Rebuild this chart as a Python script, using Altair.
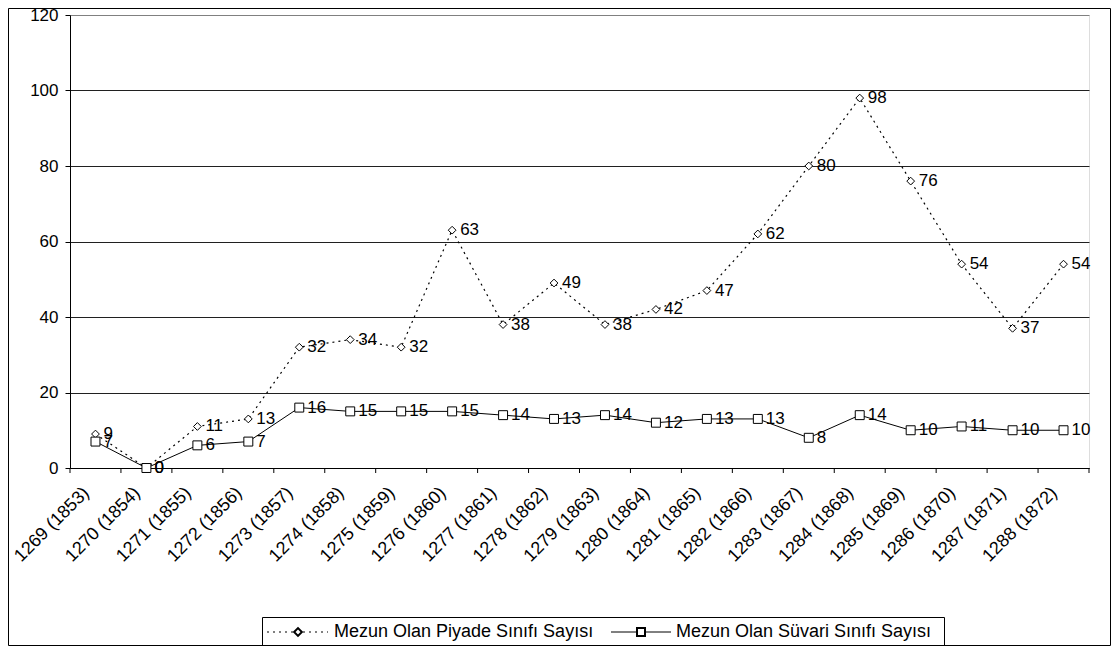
import altair as alt
import pandas as pd

categories = ["1269 (1853)", "1270 (1854)", "1271 (1855)", "1272 (1856)", "1273 (1857)",
              "1274 (1858)", "1275 (1859)", "1276 (1860)", "1277 (1861)", "1278 (1862)",
              "1279 (1863)", "1280 (1864)", "1281 (1865)", "1282 (1866)", "1283 (1867)",
              "1284 (1868)", "1285 (1869)", "1286 (1870)", "1287 (1871)", "1288 (1872)"]
piyade = [9, 0, 11, 13, 32, 34, 32, 63, 38, 49, 38, 42, 47, 62, 80, 98, 76, 54, 37, 54]
suvari = [7, 0, 6, 7, 16, 15, 15, 15, 14, 13, 14, 12, 13, 13, 8, 14, 10, 11, 10, 10]
series_names = ["Mezun Olan Piyade Sınıfı Sayısı", "Mezun Olan Süvari Sınıfı Sayısı"]
y_ticks = [0, 20, 40, 60, 80, 100, 120]

W, H = 1019, 453
FONT = "Liberation Sans"
FS = 17

df_p = pd.DataFrame({"cat": categories, "value": piyade})
df_s = pd.DataFrame({"cat": categories, "value": suvari})
df_c = pd.DataFrame({"cat": categories})
one = pd.DataFrame({"k": [0]})

xscale = alt.Scale(type="band", domain=categories, paddingInner=0, paddingOuter=0)
yscale = alt.Scale(domain=[0, 120], nice=False)

xaxis = alt.Axis(labelAngle=-45, labelAlign="right", labelBaseline="middle",
                 labelPadding=22, labelOffset=-9, ticks=False, domainColor="black",
                 labelFontSize=18, labelColor="black", labelFont=FONT,
                 labelOverlap=False, grid=False)
xenc = alt.X("cat:N", scale=xscale, sort=categories, title=None, axis=xaxis)
yenc = alt.Y("value:Q", scale=yscale, title=None,
             axis=alt.Axis(values=y_ticks, tickSize=5, tickColor="black", domainColor="black",
                           labelFontSize=FS, labelColor="black", labelFont=FONT, labelPadding=7,
                           grid=True,
                           gridColor=alt.condition("datum.value == 120", alt.value("#808080"), alt.value("#202020"))))

DASH = [2, 4]
line_p = alt.Chart(df_p).mark_line(color="black", strokeWidth=1.2, strokeDash=DASH).encode(x=xenc, y=yenc)
line_s = alt.Chart(df_s).mark_line(color="black", strokeWidth=1).encode(x=xenc, y=yenc)
pts_p = alt.Chart(df_p).mark_point(shape="diamond", filled=True, fill="white", stroke="black",
                                   strokeWidth=1, size=60, opacity=1).encode(x=xenc, y=yenc)
pts_s = alt.Chart(df_s).mark_point(shape="square", filled=True, fill="white", stroke="black",
                                   strokeWidth=1, size=80, opacity=1).encode(x=xenc, y=yenc)
lab_p = alt.Chart(df_p).mark_text(align="left", baseline="middle", dx=8, fontSize=FS,
                                  font=FONT, color="black").encode(x=xenc, y=yenc, text="value:Q")
lab_s = alt.Chart(df_s).mark_text(align="left", baseline="middle", dx=8, fontSize=FS,
                                  font=FONT, color="black").encode(x=xenc, y=yenc, text="value:Q")

ticks = alt.Chart(df_c).mark_rule(color="black", strokeWidth=1).encode(
    x=alt.X("cat:N", scale=xscale, sort=categories, bandPosition=0, title=None, axis=xaxis),
    y=alt.value(H), y2=alt.value(H + 5))
tick_end = alt.Chart(one).mark_rule(color="black", strokeWidth=1).encode(
    x=alt.value(W), y=alt.value(H), y2=alt.value(H + 5))

# outer frame
frame = alt.Chart(one).mark_rect(filled=False, stroke="black", strokeWidth=1).encode(
    x=alt.value(-61.5), x2=alt.value(W + 21.5), y=alt.value(-6.5), y2=alt.value(H + 177.5))

# legend
LY = 602
LC = LY + 15
LX = 262 - 70
leg_box = alt.Chart(one).mark_rect(filled=False, stroke="black", strokeWidth=1).encode(
    x=alt.value(LX + 0.5), x2=alt.value(LX + 682.5), y=alt.value(LY + 0.5), y2=alt.value(LY + 29.5))
leg_l1 = alt.Chart(one).mark_rule(color="black", strokeWidth=1.2, strokeDash=DASH).encode(
    x=alt.value(LX + 5), x2=alt.value(LX + 66), y=alt.value(LC))
leg_p1 = alt.Chart(one).mark_point(shape="diamond", filled=True, fill="white", stroke="black",
                                   size=60, opacity=1).encode(x=alt.value(LX + 36), y=alt.value(LC))
leg_t1 = alt.Chart(one).mark_text(align="left", baseline="middle", fontSize=18, font=FONT,
                                  color="black").encode(x=alt.value(LX + 72), y=alt.value(LC),
                                                        text=alt.value(series_names[0]))
leg_l2 = alt.Chart(one).mark_rule(color="black", strokeWidth=1).encode(
    x=alt.value(LX + 349), x2=alt.value(LX + 409), y=alt.value(LC))
leg_p2 = alt.Chart(one).mark_point(shape="square", filled=True, fill="white", stroke="black",
                                   size=64, opacity=1).encode(x=alt.value(LX + 379), y=alt.value(LC))
leg_t2 = alt.Chart(one).mark_text(align="left", baseline="middle", fontSize=18, font=FONT,
                                  color="black").encode(x=alt.value(LX + 414), y=alt.value(LC),
                                                        text=alt.value(series_names[1]))

chart = alt.layer(
    frame, ticks, tick_end, line_p, line_s, pts_p, pts_s, lab_p, lab_s,
    leg_box, leg_l1, leg_p1, leg_t1, leg_l2, leg_p2, leg_t2
).properties(
    width=W, height=H,
    padding={"left": 62, "top": 7, "right": 22, "bottom": 178},
    autosize=alt.AutoSizeParams(type="none"),
    background="white",
).configure_view(stroke="#808080", strokeWidth=1).configure(font=FONT)

chart.save("out.html", embed_options={"renderer": "svg", "actions": False})
